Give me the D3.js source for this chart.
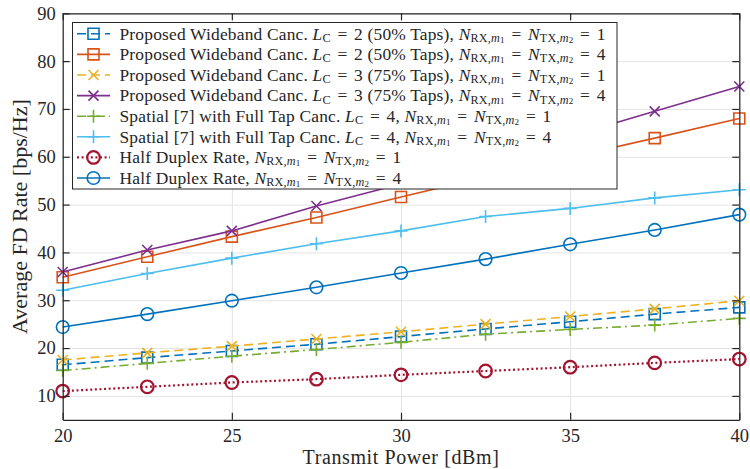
<!DOCTYPE html>
<html><head><meta charset="utf-8">
<script src="https://cdn.jsdelivr.net/npm/d3@7"></script>
<style>
body{margin:0;background:#fff}
svg{display:block}
text{font-family:"Liberation Serif","Times New Roman",serif;fill:#262626}
</style>
</head><body>
<svg id="c" width="750" height="469"></svg>
<script>
const xVals = [20, 22.5, 25, 27.5, 30, 32.5, 35, 37.5, 40];
const wbL2N1 = [16.5, 18.0, 19.4, 20.8, 22.4, 24.0, 25.5, 27.1, 28.5];
const wbL2N4 = [34.8, 39.1, 43.3, 47.3, 51.6, 55.8, 59.9, 63.9, 68.0];
const wbL3N1 = [17.5, 19.0, 20.4, 21.9, 23.4, 25.0, 26.6, 28.2, 29.9];
const wbL3N4 = [35.9, 40.5, 44.5, 49.7, 54.3, 59.2, 64.3, 69.5, 74.7];
const spN1 = [15.3, 16.8, 18.3, 19.7, 21.2, 22.9, 23.9, 24.8, 26.2];
const spN4 = [32.1, 35.6, 38.8, 41.8, 44.5, 47.5, 49.2, 51.4, 53.1];
const hdN1 = [11.0, 11.9, 12.8, 13.5, 14.4, 15.2, 16.0, 16.9, 17.7];
const hdN4 = [24.4, 27.1, 29.9, 32.7, 35.7, 38.6, 41.7, 44.7, 47.9];

const xTicks = [20, 25, 30, 35, 40];
const yTicks = [10, 20, 30, 40, 50, 60, 70, 80, 90];
const xTitle = "Transmit Power [dBm]";
const yTitle = "Average FD Rate [bps/Hz]";

const legendPrefix = ["Proposed Wideband Canc. ", "Proposed Wideband Canc. ", "Proposed Wideband Canc. ", "Proposed Wideband Canc. ",
  "Spatial [7] with Full Tap Canc. ", "Spatial [7] with Full Tap Canc. ", "Half Duplex Rate, ", "Half Duplex Rate, "];
const legendLC = ["2 (50% Taps), ", "2 (50% Taps), ", "3 (75% Taps), ", "3 (75% Taps), ", "4, ", "4, ", null, null];
const legendN = ["1", "4", "1", "4", "1", "4", "1", "4"];

const seriesValues = [wbL2N1, wbL2N4, wbL3N1, wbL3N4, spN1, spN4, hdN1, hdN4];
const seriesColors = ["#0072BD", "#D95319", "#EDB120", "#7E2F8E", "#77AC30", "#4DBEEE", "#A2142F", "#0072BD"];
const seriesDash = ["9,5", null, "9,5", null, "9,4,2,4", null, "2,2.6", null];
const seriesMarker = ["square", "square", "x", "x", "plus", "plus", "circle", "circle"];

const svg = d3.select("#c");
const L = 62.7, R = 739.3, T = 13.3, B = 419.8;
const x = d3.scaleLinear().domain([20, 40]).range([L, R]);
const y = d3.scaleLinear().domain([5, 90]).range([B, T]);
const axisColor = "#262626";

// grid
const grid = svg.append("g");
grid.append("g").attr("transform", `translate(0,${B})`)
  .call(d3.axisBottom(x).tickValues(xTicks).tickSize(-(B - T)).tickFormat(""))
  .call(g => { g.select(".domain").remove(); g.selectAll("line").attr("stroke", "#e3e3e3").attr("stroke-width", 1); });
grid.append("g").attr("transform", `translate(${L},0)`)
  .call(d3.axisLeft(y).tickValues(yTicks).tickSize(-(R - L)).tickFormat(""))
  .call(g => { g.select(".domain").remove(); g.selectAll("line").attr("stroke", "#e3e3e3").attr("stroke-width", 1); });

// series
function markerPath(type) {
  const p = d3.path();
  if (type === "square") { p.rect(-5.5, -5.5, 11, 11); }
  else if (type === "x") { p.moveTo(-5, -5); p.lineTo(5, 5); p.moveTo(-5, 5); p.lineTo(5, -5); }
  else if (type === "plus") { p.moveTo(-6.5, 0); p.lineTo(6.5, 0); p.moveTo(0, -6.5); p.lineTo(0, 6.5); }
  else if (type === "circle") { p.arc(0, 0, 6.3, 0, 2 * Math.PI); p.closePath(); }
  return p.toString();
}
const line = d3.line().x(d => x(d[0])).y(d => y(d[1]));
const plot = svg.append("g");
seriesValues.forEach((vals, i) => {
  const pts = xVals.map((xv, k) => [xv, vals[k]]);
  plot.append("path").attr("d", line(pts)).attr("fill", "none")
    .attr("stroke", seriesColors[i]).attr("stroke-width", i === 6 ? 2.2 : 1.6)
    .attr("stroke-dasharray", seriesDash[i]);
  plot.append("g").selectAll("path").data(pts).join("path")
    .attr("transform", d => `translate(${x(d[0])},${y(d[1])})`)
    .attr("d", markerPath(seriesMarker[i])).attr("fill", "none")
    .attr("stroke", seriesColors[i]).attr("stroke-width", i === 6 ? 2.2 : 1.6);
});

// axes (box)
function styleAxis(g) {
  g.select(".domain").attr("stroke", axisColor).attr("stroke-width", 1.2);
  g.selectAll(".tick line").attr("stroke", axisColor).attr("stroke-width", 1.2);
  g.selectAll("text").attr("fill", axisColor).style("font-family", '"Liberation Serif",serif').style("font-size", "18.5px");
}
svg.append("g").attr("transform", `translate(0,${B})`)
  .call(d3.axisBottom(x).tickValues(xTicks).tickSize(-7).tickSizeOuter(0).tickPadding(9.5).tickFormat(d3.format("d")))
  .call(styleAxis);
svg.append("g").attr("transform", `translate(0,${T})`)
  .call(d3.axisTop(x).tickValues(xTicks).tickSize(-7).tickSizeOuter(0).tickFormat(""))
  .call(styleAxis);
svg.append("g").attr("transform", `translate(${L},0)`)
  .call(d3.axisLeft(y).tickValues(yTicks).tickSize(-7).tickSizeOuter(0).tickPadding(7).tickFormat(d3.format("d")))
  .call(styleAxis);
svg.append("g").attr("transform", `translate(${R},0)`)
  .call(d3.axisRight(y).tickValues(yTicks).tickSize(-7).tickSizeOuter(0).tickFormat(""))
  .call(styleAxis);

svg.append("text").attr("x", (L + R) / 2).attr("y", 464.3).attr("text-anchor", "middle")
  .style("font-size", "20px").style("letter-spacing", "0.6px").text(xTitle);
svg.append("text").attr("transform", `translate(27,${(T + B) / 2}) rotate(-90)`).attr("text-anchor", "middle")
  .style("font-size", "22px").text(yTitle);

// legend
const F = 17.4;
const lg = svg.append("g");
const box = lg.append("rect").attr("fill", "#fff").attr("stroke", axisColor).attr("stroke-width", 1);
const rowY0 = 33.8, rowDy = 20.6;
const lx = 72.5;
function addRich(t, segs, baseY) {
  let pendingDx = 0;
  segs.forEach(([s, kind]) => {
    const ts = t.append("tspan").text(s);
    let size = F, off = 0, ital = false, dx = pendingDx;
    pendingDx = 0;
    if (kind === "i") ital = true;
    if (kind === "s") { size = F * 0.7; off = F * 0.13; }
    if (kind === "si") { size = F * 0.7; off = F * 0.13; ital = true; }
    if (kind === "ss") { size = F * 0.52; off = F * 0.17; }
    if (kind === "eq") { dx += F * 0.38; pendingDx = F * 0.38; }
    if (dx) ts.attr("dx", dx);
    ts.attr("y", baseY + off).style("font-size", size + "px").style("font-style", ital ? "italic" : "normal");
  });
}
let maxRight = 0;
legendPrefix.forEach((pre, i) => {
  const cy = rowY0 + i * rowDy;
  const gx = lg.append("g");
  gx.append("line").attr("x1", lx + 4.5).attr("x2", lx + 37.5).attr("y1", cy).attr("y2", cy)
    .attr("stroke", seriesColors[i]).attr("stroke-width", i === 6 ? 2.2 : 1.6).attr("stroke-dasharray", seriesDash[i]);
  gx.append("path").attr("transform", `translate(${lx + 21},${cy})`).attr("d", markerPath(seriesMarker[i]))
    .attr("fill", "none").attr("stroke", seriesColors[i]).attr("stroke-width", i === 6 ? 2.2 : 1.6);
  const segs = [[pre, "r"]];
  if (legendLC[i] !== null) { segs.push(["L", "i"], ["C", "s"], ["=", "eq"], [legendLC[i], "r"]); }
  segs.push(["N", "i"], ["RX,", "s"], ["m", "si"], ["1", "ss"], ["=", "eq"],
            ["N", "i"], ["TX,", "s"], ["m", "si"], ["2", "ss"], ["=", "eq"], [legendN[i], "r"]);
  const baseY = cy + F * 0.33;
  const t = gx.append("text").attr("x", lx + 47).attr("y", baseY).style("font-size", F + "px")
    .style("letter-spacing", "0.2px");
  addRich(t, segs, baseY);
  const bb = t.node().getBBox();
  maxRight = Math.max(maxRight, bb.x + bb.width);
});
box.attr("x", lx).attr("y", 22.5).attr("width", Math.max(maxRight + 6, 617) - lx).attr("height", 189 - 22.5);
</script>
</body></html>
